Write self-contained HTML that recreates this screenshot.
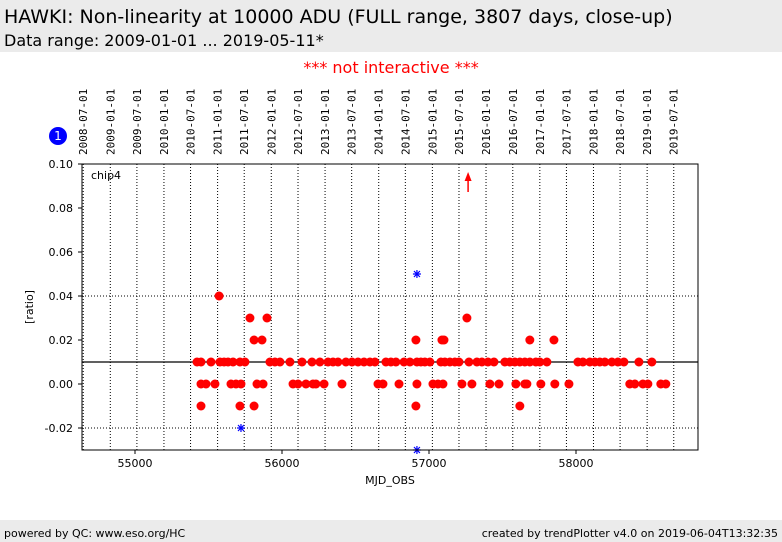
<!DOCTYPE html>
<html><head><meta charset="utf-8"><style>
body{margin:0;width:782px;height:542px;background:#fff;font-family:"DejaVu Sans","Liberation Sans",sans-serif;overflow:hidden;position:relative}
#hdr{position:absolute;left:0;top:0;width:782px;height:52px;background:#ebebeb}
#t1{position:absolute;left:4px;top:6px;font-size:19px;color:#000}
#t2{position:absolute;left:4px;top:31px;font-size:16px;color:#000}
#ni{position:absolute;left:0;width:782px;top:58px;text-align:center;color:#f00;font-size:16px}
#ftr{position:absolute;left:0;top:520px;width:782px;height:22px;background:#ebebeb;font-size:11px}
#ftr span{position:absolute;top:7px}
svg{position:absolute;left:0;top:0}
</style></head><body>
<div id="hdr">
<div id="t1">HAWKI: Non-linearity at 10000 ADU (FULL range, 3807 days, close-up)</div>
<div id="t2">Data range: 2009-01-01 ... 2019-05-11*</div>
</div>
<div id="ni">*** not interactive ***</div>
<svg id="c" width="782" height="542"></svg>
<div id="ftr"><span style="left:4px">powered by QC: www.eso.org/HC</span><span style="right:4px">created by trendPlotter v4.0 on 2019-06-04T13:32:35</span></div>
<script>
const dateLabels=["2008-07-01","2009-01-01","2009-07-01","2010-01-01","2010-07-01","2011-01-01","2011-07-01","2012-01-01","2012-07-01","2013-01-01","2013-07-01","2014-01-01","2014-07-01","2015-01-01","2015-07-01","2016-01-01","2016-07-01","2017-01-01","2017-07-01","2018-01-01","2018-07-01","2019-01-01","2019-07-01"];
const dateMjd=[54648,54832,55013,55197,55378,55562,55743,55927,56109,56293,56474,56658,56839,57023,57204,57388,57570,57754,57935,58119,58300,58484,58665];
const xTicks=[55000,56000,57000,58000];
const yTicks=[-0.02,0.00,0.02,0.04,0.06,0.08,0.10];
const mjdA=[55422,55449,55517,55578,55606,55633,55667,55714,55748,55918,55952,55986,56054,56136,56204,56258,56313,56347,56381,56435,56476,56517,56558,56598,56632,56707,56741,56775,56830,56870,56918,56945,56972,57006,57081,57108,57142,57176,57204,57272,57326,57360,57401,57442,57516,57550,57584,57618,57652,57686,57727,57754,57802,58013,58047,58094,58128,58162,58196,58244,58285,58326,58428,58516,
55449,55483,55544,55653,55687,55721,55830,55871,56075,56109,56163,56211,56231,56286,56408,56653,56687,56796,56918,57027,57061,57095,57224,57292,57414,57476,57591,57652,57666,57761,57856,57952,58366,58400,58455,58489,58577,58611,
55449,55714,55810,56911,57618,
55810,55864,56911,57088,57102,57686,57850,
55782,55898,57258,55572];
const valA=[0.01,0.01,0.01,0.01,0.01,0.01,0.01,0.01,0.01,0.01,0.01,0.01,0.01,0.01,0.01,0.01,0.01,0.01,0.01,0.01,0.01,0.01,0.01,0.01,0.01,0.01,0.01,0.01,0.01,0.01,0.01,0.01,0.01,0.01,0.01,0.01,0.01,0.01,0.01,0.01,0.01,0.01,0.01,0.01,0.01,0.01,0.01,0.01,0.01,0.01,0.01,0.01,0.01,0.01,0.01,0.01,0.01,0.01,0.01,0.01,0.01,0.01,0.01,0.01,
0,0,0,0,0,0,0,0,0,0,0,0,0,0,0,0,0,0,0,0,0,0,0,0,0,0,0,0,0,0,0,0,0,0,0,0,0,0,
-0.01,-0.01,-0.01,-0.01,-0.01,
0.02,0.02,0.02,0.02,0.02,0.02,0.02,
0.03,0.03,0.03,0.04];
const blueMjd=[55721,56918,56918];
const blueVal=[-0.02,0.05,-0.03];
const arrowMjd=[57266];
const NS="http://www.w3.org/2000/svg";
const svg=document.getElementById('c');
const L=82,R=698,T=164,B=450,X0=54639.5,X1=58830,Y0=-0.03,Y1=0.10;
const sx=m=>L+(m-X0)/(X1-X0)*(R-L);
const sy=v=>B-(v-Y0)/(Y1-Y0)*(B-T);
function mk(tag,a,txt){const e=document.createElementNS(NS,tag);for(const k in a)e.setAttribute(k,a[k]);if(txt!==undefined)e.textContent=txt;svg.appendChild(e);return e;}
let e;
e=mk('rect',{x:L,y:T,width:R-L,height:B-T,fill:'#fff',stroke:'none'});


dateMjd.forEach((m,i)=>{const x=sx(m);
 if(x>L&&x<R){e=mk('line',{x1:x,x2:x,y1:T,y2:B,stroke:'#000','stroke-width':1,'stroke-dasharray':'1,2'});
 
 }
 e=mk('text',{x:0,y:0,transform:`translate(${x+4},155) rotate(-90)`,'font-size':11,'font-family':'DejaVu Sans Mono,Liberation Mono,monospace'},dateLabels[i]);
 
 
});
[0.04,-0.02].forEach(v=>{e=mk('line',{x1:L,x2:R,y1:sy(v),y2:sy(v),stroke:'#000','stroke-width':1,'stroke-dasharray':'1,2'});
 
 });
e=mk('line',{x1:L,x2:R,y1:sy(0.01),y2:sy(0.01),stroke:'#000','stroke-width':1.2});


mjdA.forEach((m,i)=>{e=mk('circle',{cx:sx(m),cy:sy(valA[i]),r:4.5,fill:'#f00'});
 
 });
blueMjd.forEach((m,i)=>{const x=sx(m),y=sy(blueVal[i]);
 e=mk('path',{d:`M${x-4} ${y} L${x+4} ${y} M${x} ${y-4} L${x} ${y+4} M${x-3} ${y-3} L${x+3} ${y+3} M${x-3} ${y+3} L${x+3} ${y-3}`,stroke:'#00f','stroke-width':1.2,fill:'none'});
 
 });
arrowMjd.forEach(m=>{const x=sx(m);
 e=mk('path',{d:`M${x} 192 L${x} 178`,stroke:'#f00','stroke-width':1.5,fill:'none'});
 
 
 e=mk('path',{d:`M${x-3.5} 181 L${x} 172 L${x+3.5} 181 Z`,fill:'#f00'});
 
 });
e=mk('rect',{x:L,y:T,width:R-L,height:B-T,fill:'none',stroke:'#000','stroke-width':1});


yTicks.forEach(v=>{const y=sy(v);
 e=mk('line',{x1:L-4,x2:L,y1:y,y2:y,stroke:'#000'});
 
 
 e=mk('text',{x:L-9,y:y+4,'text-anchor':'end','font-size':11},v.toFixed(2));
 
 });
xTicks.forEach(m=>{const x=sx(m);
 e=mk('line',{x1:x,x2:x,y1:B,y2:B+4,stroke:'#000'});
 
 
 e=mk('text',{x:x,y:B+17,'text-anchor':'middle','font-size':11},String(m));
 
 });
e=mk('text',{x:390,y:484,'text-anchor':'middle','font-size':11},'MJD_OBS');


e=mk('text',{x:0,y:0,transform:'translate(33,307) rotate(-90)','text-anchor':'middle','font-size':11},'[ratio]');


e=mk('text',{x:91,y:179,'font-size':11},'chip4');


e=mk('circle',{cx:58,cy:136,r:9,fill:'#00f'});


e=mk('text',{x:58,y:140,'text-anchor':'middle','font-size':12,fill:'#fff'},'1');


</script>
</body></html>
